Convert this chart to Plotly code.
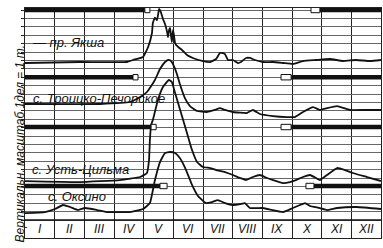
import plotly.graph_objects as go

# Water-stage hydrographs, grid units: 1 division = 1 m, months I..XII on x (0..12)
months = ["I", "II", "III", "IV", "V", "VI", "VII", "VIII", "IX", "X", "XI", "XII"]

yaksha_t = [0.0, 1.85, 3.44, 3.64, 3.98, 4.15, 4.28, 4.31, 4.38, 4.45, 4.52, 4.58, 4.65, 4.72,
            4.79, 4.82, 4.85, 4.89, 4.92, 4.95, 4.99, 5.02, 5.06, 5.16, 5.29, 5.46, 5.66, 6.00,
            6.24, 6.44, 6.57, 6.67, 6.74, 6.84, 7.01, 7.18, 7.28, 7.45, 7.58, 7.75, 8.02, 8.36,
            8.70, 9.03, 9.37, 9.81, 10.28, 10.72, 11.16, 11.63, 12.0]
yaksha_h = [18.69, 18.81, 18.81, 19.05, 19.40, 20.60, 22.26, 23.45, 24.10, 23.80, 25.12, 24.76,
            23.93, 23.33, 22.38, 21.79, 22.50, 22.86, 22.02, 21.19, 22.62, 22.02, 21.07, 20.60,
            20.24, 19.64, 19.29, 18.93, 18.81, 19.17, 19.88, 19.88, 19.76, 19.05, 19.05, 18.69,
            18.81, 19.29, 19.29, 19.05, 18.81, 18.81, 18.69, 18.57, 18.93, 19.05, 19.17, 18.93,
            19.05, 18.93, 19.05]

troitsko_t = [0.0, 2.53, 3.54, 3.88, 4.11, 4.38, 4.55, 4.72, 4.82, 4.92, 5.02, 5.12, 5.22, 5.39,
              5.56, 5.80, 6.13, 6.40, 6.57, 6.74, 7.01, 7.48, 7.68, 7.92, 8.36, 8.83, 9.10, 9.37,
              9.71, 9.94, 10.18, 10.52, 10.95, 11.46, 12.0]
troitsko_h = [13.81, 13.81, 14.05, 14.64, 15.24, 16.67, 17.98, 18.81, 19.05, 18.93, 18.33, 17.38,
              16.19, 14.52, 13.57, 12.98, 12.86, 13.10, 13.33, 13.10, 12.86, 12.74, 13.10, 12.62,
              12.38, 12.26, 12.26, 12.86, 13.45, 13.10, 13.33, 13.57, 13.10, 13.10, 13.10]

ustcilma_t = [0.0, 1.85, 3.20, 3.88, 4.11, 4.18, 4.21, 4.25, 4.31, 4.48, 4.65, 4.85, 4.95, 5.06,
              5.16, 5.29, 5.46, 5.63, 5.80, 6.00, 6.24, 6.44, 6.74, 7.01, 7.25, 7.45, 7.68, 7.92,
              8.16, 8.36, 8.70, 8.93, 9.13, 9.37, 9.61, 9.81, 9.94, 10.18, 10.52, 10.79, 11.05,
              11.53, 12.0]
ustcilma_h = [4.64, 4.52, 4.76, 5.12, 5.60, 7.14, 9.52, 11.31, 11.90, 14.29, 15.83, 16.67, 16.43,
              15.12, 13.93, 12.38, 10.36, 8.33, 6.90, 6.31, 6.19, 5.95, 5.71, 5.36, 5.00, 4.76,
              5.12, 5.36, 5.00, 4.76, 4.40, 4.52, 4.76, 5.12, 5.36, 5.00, 4.76, 5.36, 6.19, 5.95,
              5.60, 5.12, 4.64]

oksino_t = [0.0, 0.67, 1.01, 1.28, 1.52, 1.79, 2.02, 2.43, 2.76, 3.54, 3.98, 4.21, 4.38, 4.55,
            4.72, 4.89, 5.06, 5.22, 5.43, 5.63, 5.83, 6.10, 6.30, 6.50, 6.74, 7.01, 7.25, 7.41,
            7.58, 8.02, 8.70, 9.03, 9.27, 9.44, 9.61, 9.94, 10.18, 10.52, 11.19, 12.0]
oksino_h = [0.83, 0.95, 1.31, 1.79, 1.55, 1.19, 1.43, 1.19, 0.95, 0.95, 1.31, 2.02, 4.76, 6.90,
            7.98, 8.10, 7.98, 7.38, 5.95, 4.17, 2.86, 2.02, 2.14, 2.38, 2.02, 1.79, 1.90, 2.02,
            1.43, 1.43, 0.95, 1.43, 1.79, 2.02, 1.67, 1.43, 1.19, 1.43, 1.55, 1.31]

# ice cover: band level, spring break-up marker (start, end), autumn freeze-up marker (start, end)
ice_level = [25.0, 17.0, 11.07, 4.05]
ice_break = [(4.04, 4.21), (3.64, 3.81), (4.25, 4.42), (4.55, 4.79)]
ice_freeze = [(9.64, 9.94), (8.63, 8.97), (8.63, 8.97), (9.47, 9.74)]

station_names = ["— пр. Якша", "с. Троицко-Печорское", "с. Усть-Цильма", "с. Оксино"]
label_pos = [(0.17, 21.1), (0.2, 14.45), (0.17, 6.0), (0.71, 2.85)]

FONT = "Liberation Sans Narrow, Liberation Sans, Arial, sans-serif"

fig = go.Figure()
for t, h in [(yaksha_t, yaksha_h), (troitsko_t, troitsko_h),
             (ustcilma_t, ustcilma_h), (oksino_t, oksino_h)]:
    fig.add_trace(go.Scatter(x=t, y=h, mode="lines", hoverinfo="skip",
                             line=dict(color="#111", width=1.8, shape="spline", smoothing=0.35)))

shapes = []
for lvl, (b0, b1), (f0, f1) in zip(ice_level, ice_break, ice_freeze):
    shapes.append(dict(type="rect", xref="x", yref="y", x0=0, x1=b0, y0=lvl - 0.27, y1=lvl + 0.27,
                       fillcolor="#111", line=dict(width=0)))
    shapes.append(dict(type="rect", xref="x", yref="y", x0=f1, x1=12, y0=lvl - 0.27, y1=lvl + 0.27,
                       fillcolor="#111", line=dict(width=0)))
    for a, b in [(b0, b1), (f0, f1)]:
        shapes.append(dict(type="rect", xref="x", yref="y", x0=a, x1=b, y0=lvl - 0.32, y1=lvl + 0.32,
                           fillcolor="white", line=dict(color="#111", width=1)))
# top edge of the month strip
shapes.append(dict(type="line", xref="paper", yref="y", x0=0, x1=1, y0=0, y1=0,
                   line=dict(color="#111", width=1.4)))

annotations = []
for i, m in enumerate(months):
    annotations.append(dict(x=i + 0.5, y=-1.07, xref="x", yref="y", text=f"<i>{m}</i>",
                            showarrow=False, font=dict(family=FONT, size=12, color="#111")))
for name, (px, py) in zip(station_names, label_pos):
    annotations.append(dict(x=px, y=py, xref="x", yref="y", text=f"<i>{name}</i>", xanchor="left",
                            showarrow=False, font=dict(family=FONT, size=13, color="#111")))
annotations.append(dict(x=-0.04, y=0.41, xref="paper", yref="paper", textangle=-90,
                        text="<i>Вертикальн. масштаб 1дел = 1 m.</i>", showarrow=False,
                        font=dict(family=FONT, size=12, color="#111")))

fig.update_layout(
    width=383, height=248, margin=dict(l=25, r=2, t=8, b=10),
    paper_bgcolor="white", plot_bgcolor="white", showlegend=False,
    shapes=shapes, annotations=annotations,
    xaxis=dict(range=[0, 12], tickvals=list(range(13)), showticklabels=False, ticks="",
               showgrid=True, gridcolor="#222", gridwidth=1.3, zeroline=False,
               showline=True, linecolor="#222", linewidth=1.3, mirror=True),
    yaxis=dict(range=[-2.14, 25.24], tickvals=list(range(26)), showticklabels=False,
               ticks="outside", ticklen=3, tickcolor="#222",
               showgrid=True, gridcolor="#666", gridwidth=1, zeroline=False,
               showline=True, linecolor="#222", linewidth=1.3, mirror=True),
)

fig.write_html("out.html")
